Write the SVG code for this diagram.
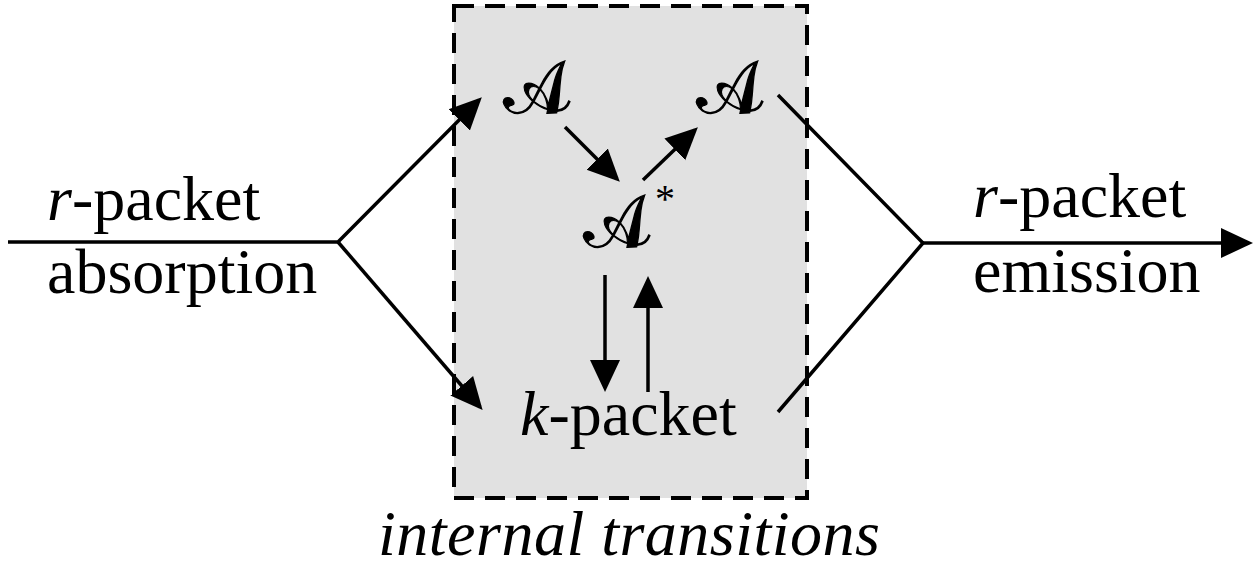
<svg xmlns="http://www.w3.org/2000/svg" width="1260" height="573" viewBox="0 0 1260 573">
<defs>
<marker id="ah" markerUnits="userSpaceOnUse" markerWidth="32" markerHeight="32" viewBox="0 0 32 32" refX="28" refY="16" orient="auto">
<path d="M0,1 L32,16 L0,31 z" fill="#000"/>
</marker>
</defs>
<style>
.t{font-family:"Liberation Serif","Times New Roman",serif;font-size:64px;fill:#000}
.i{font-style:italic}
.a{font-family:"DejaVu Serif","Noto Sans",serif;font-size:74px;fill:#000;stroke:#000;stroke-width:1.2}
.c{fill:none;stroke:#000;stroke-width:3.5}
</style>
<g id="box">
<rect x="454" y="6" width="353" height="492" fill="#e1e1e1" stroke="#000" stroke-width="4" stroke-dasharray="20 11"/>
</g>
<g id="connectors">
<path class="c" d="M8,242 H338 L479,100" marker-end="url(#ah)"/>
<path class="c" d="M338,242 L480,407" marker-end="url(#ah)"/>
<path class="c" d="M778,95 L923,243 L778,412"/>
<path class="c" d="M923,243 H1249" marker-end="url(#ah)"/>
<path class="c" d="M565,127 L617,179" marker-end="url(#ah)"/>
<path class="c" d="M643,180 L695,130" marker-end="url(#ah)"/>
<path class="c" d="M605,275 V388" marker-end="url(#ah)"/>
<path class="c" d="M648,392 V280" marker-end="url(#ah)"/>
</g>
<g id="absorption">
<text class="t" x="47" y="220"><tspan class="i">r</tspan>-packet</text>
<text class="t" x="47" y="293">absorption</text>
</g>
<g id="emission">
<text class="t" x="973" y="217"><tspan class="i">r</tspan>-packet</text>
<text class="t" x="973" y="292">emission</text>
</g>
<g id="A1"><text class="a" transform="translate(507,113) skewX(20)">𝒜</text></g>
<g id="A2"><text class="a" transform="translate(700,113) skewX(20)">𝒜</text></g>
<g id="Astar"><text class="a" transform="translate(587,247) skewX(20)">𝒜</text><text class="t" x="655" y="212" style="font-size:40px">*</text></g>
<g id="kpacket"><text class="t" x="520" y="435"><tspan class="i">k</tspan>-packet</text></g>
<g id="label"><text class="t i" x="378" y="555" textLength="502">internal transitions</text></g>
</svg>
